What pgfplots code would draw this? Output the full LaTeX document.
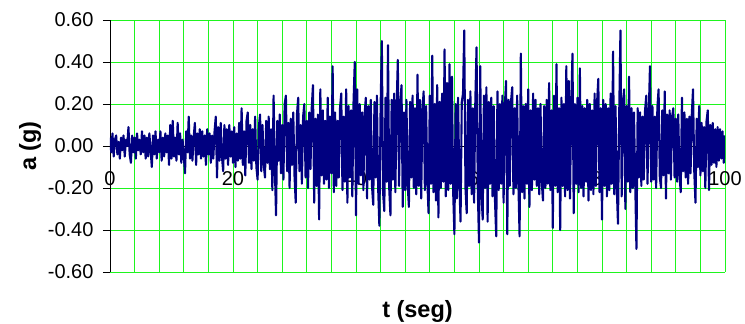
\documentclass[border=0pt]{standalone}
\usepackage{pgfplots}
\pgfplotsset{compat=1.18}
\usepackage{fontspec}
\setmainfont{Liberation Sans}
\definecolor{gridgreen}{RGB}{30,245,30}
\definecolor{tracenavy}{RGB}{0,0,128}

\begin{document}
\begin{tikzpicture}
\begin{axis}[
  at={(0,0)}, anchor=south west,
  scale only axis, width=615pt, height=252pt,
  xmin=0, xmax=100, ymin=-0.6, ymax=0.6,
  axis x line*=middle, axis y line*=left,
  hide obscured x ticks=false,
  axis line style={black, line width=0.8pt, -},
  xtick={0,20,...,100},
  minor xtick={0,4,...,100},
  ytick={-0.6,-0.4,...,0.61},
  xminorgrids, ymajorgrids,
  minor grid style={gridgreen, line width=0.9pt},
  major grid style={gridgreen, line width=0.9pt},
  tick align=outside, major tick length=7pt, minor tick length=0pt,
  xtick style={draw=none},
  ytick style={black, line width=0.8pt},
  tick label style={font=\fontsize{20}{24}\selectfont},
  /pgf/number format/assume math mode=true,
  yticklabel style={/pgf/number format/fixed, /pgf/number format/fixed zerofill,
    /pgf/number format/precision=2, xshift=-6pt},
  xticklabel style={/pgf/number format/fixed, /pgf/number format/precision=0, yshift=-15pt},
  every axis x label/.style={at={(rel axis cs:0.5,0)}, yshift=-39pt, anchor=center,
    font=\fontsize{23.5}{26}\selectfont\bfseries},
  every axis y label/.style={at={(rel axis cs:0,0.5)}, xshift=-80pt, rotate=90, anchor=center,
    font=\fontsize{23.5}{26}\selectfont\bfseries},
  xlabel={t (seg)}, ylabel={a (g)},
  clip=true,
]
% acceleration record, one sample every 0.2 s
\addplot[tracenavy, line width=2.1pt, line join=round] table[header=false, row sep=\\, x expr=\coordindex*0.2, y index=0] {
0.04\\-0.03\\0.06\\-0.05\\0.03\\0.05\\-0.04\\0.02\\-0.06\\0.04\\-0.02\\0.05\\-0.05\\0.03\\0.00\\0.09\\-0.04\\-0.08\\0.05\\-0.03\\0.04\\-0.06\\0.06\\-0.02\\0.03\\
-0.04\\0.07\\-0.03\\0.05\\-0.06\\0.04\\-0.05\\0.06\\-0.02\\-0.10\\0.05\\-0.04\\0.07\\-0.06\\0.03\\-0.03\\0.07\\-0.07\\0.04\\-0.05\\0.06\\-0.03\\0.05\\-0.09\\0.10\\
-0.06\\0.12\\-0.05\\0.04\\-0.07\\0.11\\-0.04\\0.06\\-0.08\\0.03\\-0.05\\-0.13\\0.07\\-0.03\\0.14\\-0.06\\0.05\\-0.07\\0.04\\0.11\\-0.09\\0.06\\-0.04\\0.08\\-0.06\\
0.07\\-0.05\\0.05\\-0.09\\0.08\\-0.04\\0.06\\-0.08\\0.05\\-0.06\\0.07\\0.14\\-0.15\\0.09\\-0.07\\0.11\\-0.05\\-0.12\\0.10\\-0.06\\0.08\\-0.09\\0.10\\-0.05\\0.07\\
-0.08\\0.09\\-0.10\\0.06\\-0.07\\0.11\\-0.06\\0.18\\-0.09\\0.07\\-0.14\\0.12\\0.16\\-0.08\\0.10\\-0.11\\0.08\\-0.07\\0.14\\-0.10\\-0.16\\0.09\\0.15\\-0.12\\0.10\\
-0.09\\-0.15\\0.12\\-0.08\\0.14\\-0.11\\0.08\\-0.21\\0.24\\-0.10\\-0.33\\0.12\\-0.07\\0.15\\-0.13\\0.10\\-0.16\\0.20\\0.24\\-0.12\\0.11\\-0.20\\0.13\\-0.09\\0.16\\
-0.14\\-0.27\\0.15\\0.23\\-0.12\\0.10\\-0.18\\0.14\\0.20\\-0.15\\0.12\\-0.20\\0.16\\-0.11\\0.18\\0.29\\-0.27\\0.13\\-0.19\\0.15\\-0.35\\0.27\\-0.14\\0.17\\-0.18\\
0.12\\-0.16\\0.23\\-0.20\\0.14\\-0.13\\0.38\\-0.22\\0.16\\-0.19\\0.12\\-0.15\\0.18\\0.25\\-0.21\\0.14\\-0.17\\0.27\\-0.27\\0.19\\-0.15\\0.17\\-0.24\\0.21\\0.40\\
-0.33\\0.27\\-0.18\\0.20\\-0.14\\0.16\\-0.21\\0.15\\0.23\\-0.25\\0.19\\-0.16\\0.22\\-0.19\\-0.28\\0.21\\-0.15\\0.24\\-0.20\\-0.38\\0.18\\0.50\\-0.22\\-0.31\\0.23\\
-0.17\\0.48\\-0.20\\-0.33\\0.22\\-0.16\\0.25\\-0.22\\0.18\\0.41\\-0.19\\0.20\\0.29\\-0.29\\0.16\\-0.21\\0.22\\-0.18\\-0.29\\0.21\\-0.15\\0.24\\-0.20\\0.18\\-0.23\\
0.34\\-0.19\\0.22\\-0.25\\0.17\\0.26\\-0.21\\0.19\\-0.17\\-0.32\\0.24\\-0.18\\0.43\\-0.22\\0.20\\-0.26\\0.29\\-0.34\\0.21\\-0.20\\0.25\\-0.17\\0.46\\-0.24\\0.30\\
-0.21\\0.39\\-0.18\\0.33\\-0.22\\-0.42\\0.20\\-0.25\\0.23\\-0.17\\-0.36\\0.21\\0.25\\0.55\\-0.20\\-0.32\\0.22\\-0.19\\0.26\\-0.23\\0.18\\-0.27\\0.21\\0.47\\-0.20\\
-0.46\\0.38\\-0.22\\-0.35\\0.24\\-0.20\\0.28\\-0.36\\0.21\\-0.18\\0.23\\-0.24\\0.19\\-0.26\\-0.43\\0.26\\-0.21\\0.20\\-0.18\\0.24\\-0.27\\0.19\\0.31\\-0.42\\0.22\\
-0.19\\0.21\\0.28\\-0.23\\0.18\\-0.20\\0.24\\-0.17\\-0.43\\0.44\\-0.22\\0.19\\-0.25\\0.20\\-0.18\\0.27\\-0.29\\0.17\\-0.21\\0.25\\-0.16\\0.22\\-0.19\\0.18\\-0.23\\
0.20\\-0.17\\-0.26\\0.19\\-0.20\\0.22\\-0.18\\0.30\\-0.21\\0.17\\-0.39\\0.24\\-0.19\\0.39\\-0.22\\0.18\\-0.40\\0.23\\-0.19\\0.20\\-0.24\\0.38\\-0.21\\0.31\\-0.25\\
0.21\\0.44\\-0.32\\0.20\\-0.18\\0.23\\-0.22\\0.37\\-0.20\\0.19\\-0.24\\0.18\\-0.17\\0.22\\-0.26\\0.20\\-0.21\\0.17\\-0.23\\0.25\\-0.19\\0.21\\0.32\\-0.22\\0.18\\
-0.35\\0.22\\-0.19\\0.20\\-0.24\\0.18\\-0.21\\0.25\\-0.18\\0.45\\-0.23\\0.19\\-0.20\\-0.37\\0.16\\0.55\\-0.24\\0.21\\0.27\\-0.30\\0.19\\-0.17\\0.33\\-0.22\\0.18\\
-0.20\\0.16\\-0.17\\-0.49\\0.18\\-0.15\\0.16\\-0.19\\0.14\\-0.16\\0.17\\0.24\\-0.18\\0.15\\0.38\\-0.17\\0.19\\-0.16\\0.14\\-0.20\\0.18\\0.27\\-0.15\\-0.20\\0.17\\
-0.14\\0.26\\-0.25\\0.15\\-0.13\\0.17\\-0.16\\0.14\\0.18\\-0.15\\0.13\\-0.17\\0.15\\-0.14\\-0.22\\0.23\\-0.12\\0.16\\-0.15\\0.13\\-0.18\\0.14\\-0.13\\0.15\\0.27\\
-0.12\\-0.27\\0.13\\-0.10\\0.19\\-0.14\\0.11\\-0.12\\0.09\\-0.20\\0.12\\0.17\\-0.21\\0.10\\-0.09\\0.11\\-0.08\\0.08\\-0.10\\0.09\\-0.07\\0.08\\-0.06\\0.07\\-0.08\\
0.05\\
};
\end{axis}
\pgfresetboundingbox
\useasboundingbox (-110pt,-52pt) rectangle (635pt,272pt);
\end{tikzpicture}
\end{document}
